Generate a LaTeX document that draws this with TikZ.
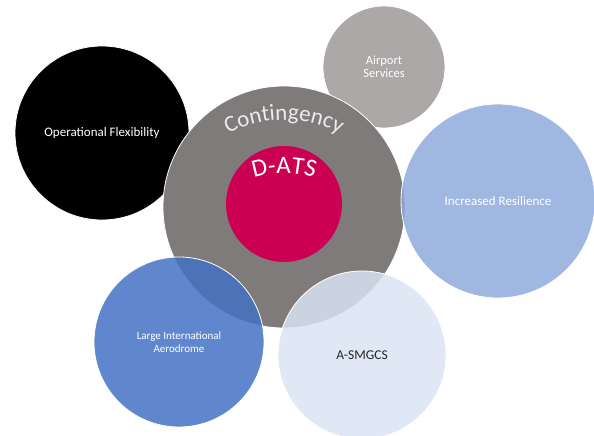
\documentclass[tikz,border=0pt]{standalone}
\usepackage{fontspec}
\setmainfont{Carlito}
\usetikzlibrary{decorations.text}
\definecolor{contgray}{RGB}{127,123,122}
\definecolor{datsred}{RGB}{204,0,82}
\definecolor{airgray}{RGB}{172,168,167}
\definecolor{accblue}{RGB}{68,114,196}
\definecolor{midblue}{RGB}{143,170,220}
\definecolor{paleblue}{RGB}{218,227,243}
\newcommand{\edgewidth}{0.8}
\newcommand{\bubbleop}{0.85}

\begin{document}
\begin{tikzpicture}[x=1pt, y=1pt,
    bubble/.style={draw=white, circle, line width=\edgewidth pt, inner sep=0pt, align=center, text=white}]
        \clip (0,0) rectangle (594,436);

        %circles
        \node[bubble, fill=black   , minimum size=174pt, font=\fontsize{13}{15}\selectfont  , name=flex ] at (102,303) {Operational Flexibility};
        \node[bubble, fill=airgray , minimum size=122pt, font=\fontsize{12.5}{13}\selectfont, name=air  ] at (384,369) {Airport\\Services};
        \node[bubble, fill=contgray, minimum size=242pt                                      , name=cont ] at (284,229) {};
        \node[circle, fill=datsred , minimum size=116pt                                      , name=dats ] at (284,232) {};
        \node[bubble, fill=midblue , fill opacity=\bubbleop, text opacity=1, minimum size=194pt, font=\fontsize{13}{15}\selectfont  , name=resil] at (498,235) {Increased Resilience};
        \node[bubble, fill=accblue , fill opacity=\bubbleop, text opacity=1, minimum size=170pt, font=\fontsize{11}{12.7}\selectfont, name=aero ] at (179, 94) {Large International\\Aerodrome};
        \node[bubble, fill=paleblue, fill opacity=\bubbleop, text opacity=1, minimum size=168pt, font=\fontsize{13.5}{15}\selectfont, text=black!85, name=smgcs] at (362, 81) {A-SMGCS};

        %curved labels
        \coordinate (contarc) at (284,194);
        \coordinate (datsarc) at (284,167);
        \path[decorate, decoration={text along path, text={|\fontsize{23}{23}\selectfont|Contingency}, text align=center, text color=white!92!black}]
            ([shift={(130:122)}]contarc) arc[start angle=130, end angle=50, radius=122];
        \path[decorate, decoration={text along path, text={|\fontsize{25}{25}\selectfont|D-ATS}, text align=center, text color=white}]
            ([shift={(130:96)}]datsarc) arc[start angle=130, end angle=50, radius=96];
    \end{tikzpicture}
\end{document}
